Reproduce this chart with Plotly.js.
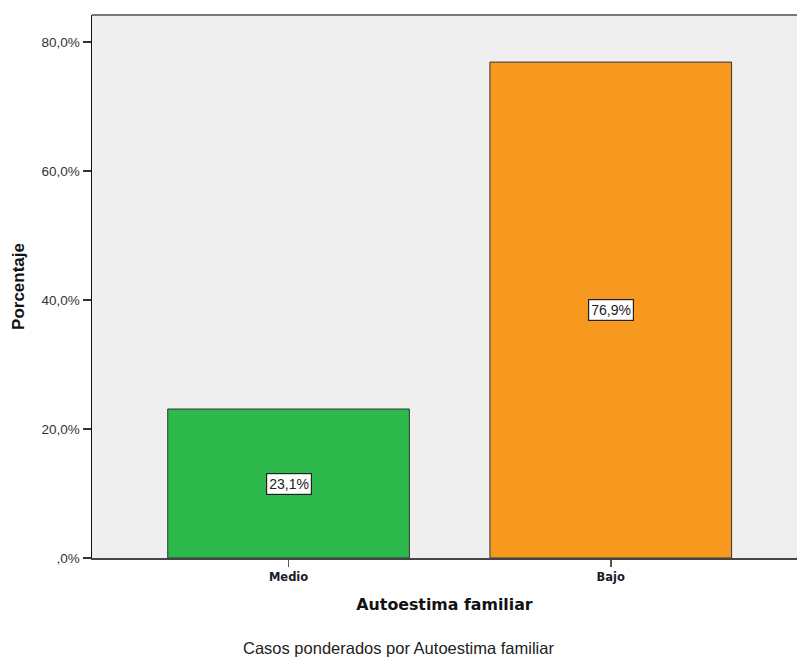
<!DOCTYPE html>
<html>
<head>
<meta charset="utf-8">
<script src="https://cdn.plot.ly/plotly-3.0.1.min.js"></script>
<style>html,body{margin:0;padding:0;background:#fff;}#chart{width:798px;height:657px;}</style>
</head>
<body>
<div id="chart"></div>
<script>
const categories = ["Medio", "Bajo"];
const values = [23.1, 76.9];
const valueLabels = ["23,1%", "76,9%"];
const barColors = ["#2db84b", "#f7991f"];
const yTickVals = [0, 20, 40, 60, 80];
const yTickText = [",0%", "20,0%", "40,0%", "60,0%", "80,0%"];

const trace = {
  type: "bar",
  x: categories,
  y: values,
  width: 0.75,
  marker: {color: barColors, line: {color: "#333333", width: 1}},
  hoverinfo: "none"
};

const annotations = categories.map((c, i) => ({
  x: c, y: values[i] / 2, xref: "x", yref: "y",
  text: valueLabels[i], showarrow: false,
  font: {family: "Liberation Sans, Arial", size: 14, color: "#222"},
  bgcolor: "#ffffff", bordercolor: "#222222", borderwidth: 1.2, borderpad: 2
}));
annotations.push({
  xref: "paper", yref: "paper", x: 0.4348, y: -0.1657, xanchor: "center", yanchor: "middle",
  text: "Casos ponderados por Autoestima familiar", showarrow: false,
  font: {family: "Liberation Sans, Arial", size: 16.5, color: "#222"}
});

const layout = {
  width: 798, height: 657,
  margin: {l: 92, r: 1, t: 15, b: 99},
  paper_bgcolor: "#ffffff",
  plot_bgcolor: "#efefef",
  showlegend: false,
  xaxis: {
    range: [-0.61, 1.578],
    showgrid: false, zeroline: false,
    showline: true, linecolor: "#444444", linewidth: 2,
    ticks: "outside", ticklen: 7, tickcolor: "#555555", tickwidth: 1.5,
    tickfont: {family: "DejaVu Sans, Verdana", size: 11.5, color: "#1a1a2a", weight: "bold"},
    title: {text: "<b>Autoestima familiar</b>", font: {family: "DejaVu Sans, Verdana", size: 15.8, color: "#111"}, standoff: 16}
  },
  yaxis: {
    range: [0, 84.2],
    tickvals: yTickVals, ticktext: yTickText,
    showgrid: false, zeroline: false,
    showline: true, linecolor: "#111111", linewidth: 1.5,
    ticks: "outside", ticklen: 8, tickcolor: "#333333", tickwidth: 1.5,
    tickfont: {family: "Liberation Sans, Arial", size: 13.5, color: "#333"},
    title: {text: "<b>Porcentaje</b>", font: {family: "Liberation Sans, Arial", size: 17, color: "#111"}, standoff: 12}
  },
  annotations: annotations,
  shapes: [
    {type: "line", xref: "paper", yref: "paper", x0: 0, x1: 1, y0: 1, y1: 1, line: {color: "#777777", width: 2}}
  ]
};

Plotly.newPlot("chart", [trace], layout, {displayModeBar: false, staticPlot: true});
</script>
</body>
</html>
